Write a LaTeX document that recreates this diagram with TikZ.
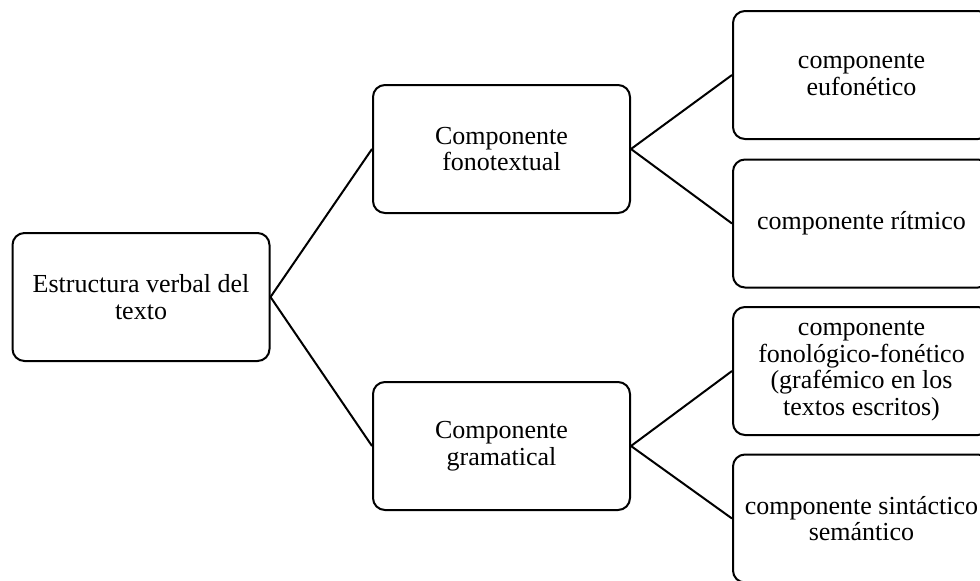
\documentclass[tikz,border=0pt]{standalone}
\usepackage{fontspec}
\setmainfont{Liberation Serif}
\usepackage{tikz}

\begin{document}
\begin{tikzpicture}[x=0.5pt,y=-0.5pt,
  caja/.style={draw,line width=1pt,rounded corners=6pt,minimum width=128.5pt,minimum height=64pt,
    text width=119pt,align=flush center,inner sep=0pt,font=\fontsize{13}{13.4}\selectfont}]
\useasboundingbox (0,0) rectangle (980,580);
\clip (0,0) rectangle (980,580);
\node[caja] (estructura) at (141,297) {Estructura verbal del texto};
\node[caja] (fonotextual) at (501.5,149) {Componente fonotextual};
\node[caja] (gramatical) at (501.5,446) {Componente gramatical};
\foreach \n/\y/\t in {eufonetico/75/{componente eufonético},ritmico/223.5/{componente rítmico},
    fonologico/371/{componente fonológico-fonético (grafémico en los textos escritos)},
    sintactico/518.5/{componente sintáctico semántico}}{
  \node[caja] (\n) at (861.5,\y) {\t};
}
\foreach \a/\b in {estructura/fonotextual,estructura/gramatical,fonotextual/eufonetico,fonotextual/ritmico,
    gramatical/fonologico,gramatical/sintactico}{\draw[line width=1pt] (\a.east) -- (\b.west);}
\end{tikzpicture}
\end{document}
